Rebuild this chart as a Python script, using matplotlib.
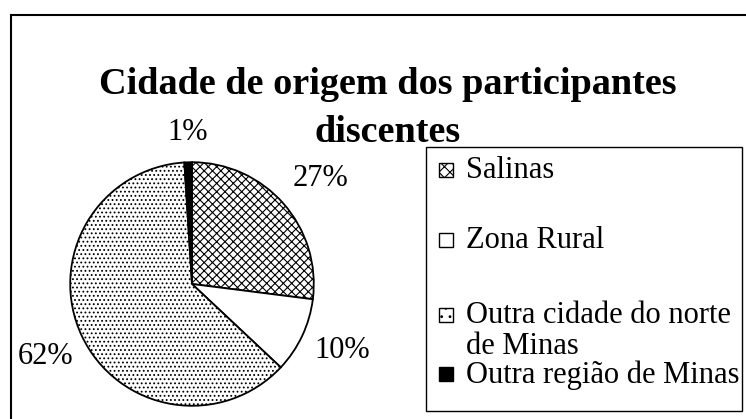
import matplotlib.pyplot as plt
from matplotlib.patches import Rectangle

plt.rcParams['font.family'] = ['Liberation Serif', 'DejaVu Serif']
plt.rcParams['hatch.linewidth'] = 0.8

labels = ['Salinas', 'Zona Rural', 'Outra cidade do norte\nde Minas', 'Outra região de Minas']
values = [27, 10, 62, 1]
pct_labels = ['27%', '10%', '62%', '1%']
hatches = ['xxxx', '', '....', '']
colors = ['white', 'white', 'white', 'black']

W, H = 746, 419
fig = plt.figure(figsize=(W / 100, H / 100), dpi=100)

def fx(x):
    return x / W

def fy(y):
    return 1 - y / H

# outer frame (runs off the right and bottom edges)
fig.patches.append(Rectangle((fx(11), fy(440)), fx(760) - fx(11), fy(15) - fy(440),
                             transform=fig.transFigure, fill=False, lw=1.5, ec='black'))

fig.text(fx(388), fy(84), 'Cidade de origem dos participantes', ha='center', va='center',
         fontsize=27.5, fontweight='bold')
fig.text(fx(388), fy(132), 'discentes', ha='center', va='center',
         fontsize=27.5, fontweight='bold')

cx, cy, r = 192, 284, 123
ax = fig.add_axes([fx(cx - r), fy(cy + r), (2 * r) / W, (2 * r) / H])
wedges, _ = ax.pie(values, startangle=90, counterclock=False, colors=colors,
                   wedgeprops=dict(edgecolor='black', linewidth=1.3))
for w, h in zip(wedges, hatches):
    w.set_hatch(h)
ax.set_xlim(-1.01, 1.01)
ax.set_ylim(-1.01, 1.01)
ax.set_aspect('equal')
ax.axis('off')

label_pos = [(321, 178), (342, 351), (46, 356), (188, 132)]
for t, (x, y) in zip(pct_labels, label_pos):
    fig.text(fx(x), fy(y), t, ha='center', va='center', fontsize=22)

# legend box
fig.patches.append(Rectangle((fx(426), fy(411)), fx(742) - fx(426), fy(147) - fy(411),
                             transform=fig.transFigure, fill=False, lw=1, ec='black'))
legend_hatches = ['xxx', '', '..', '']
entry_y = [170, 240, 315, 374]
for lab, h, c, y in zip(labels, legend_hatches, colors, entry_y):
    fig.patches.append(Rectangle((fx(439), fy(y + 7)), fx(453) - fx(439), fy(y - 7) - fy(y + 7),
                                 transform=fig.transFigure, fc=c, ec='black', lw=1, hatch=h))
    fig.text(fx(466), fy(y - 14), lab, ha='left', va='top', fontsize=22, linespacing=1.1)

fig.savefig('out.png', dpi=100)
